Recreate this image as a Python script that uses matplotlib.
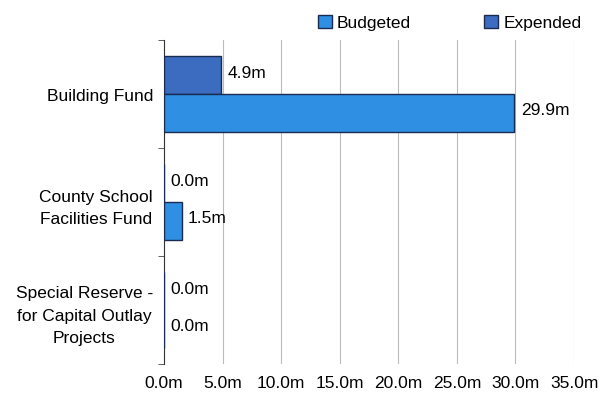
import numpy as np
from matplotlib import pyplot as plt

plt.rcParams['font.family'] = ['Liberation Sans', 'DejaVu Sans']

categories = ["Building Fund", "County School\nFacilities Fund", "Special Reserve -\nfor Capital Outlay\nProjects"]
budgeted = [29.9, 1.5, 0.0]
expended = [4.9, 0.0, 0.0]
x_ticks = [0, 5, 10, 15, 20, 25, 30, 35]

col_budget = "#2f8fe2"
col_expend = "#3b6cbf"

fig = plt.figure(figsize=(6.03, 4.02), dpi=100)
ax = fig.add_axes([0.272, 0.092, 0.68, 0.806])

y = np.arange(len(categories))
h = 0.35
ax.barh(y - h / 2, expended, height=h, color=col_expend, edgecolor="#1a2a50", linewidth=1, label="Expended", zorder=3)
ax.barh(y + h / 2, budgeted, height=h, color=col_budget, edgecolor="#1a2a50", linewidth=1, label="Budgeted", zorder=3)

fs = 12.5
for yy, v in zip(y - h / 2, expended):
    ax.text(v + 0.55, yy - 0.02, f"{v:.1f}m", va="center", ha="left", fontsize=fs)
for yy, v in zip(y + h / 2, budgeted):
    ax.text(v + 0.55, yy - 0.03, f"{v:.1f}m", va="center", ha="left", fontsize=fs)

ax.set_xlim(0, 35)
ax.set_ylim(2.5, -0.5)
ax.set_xticks(x_ticks)
ax.set_xticklabels([f"{t:.1f}m" for t in x_ticks], fontsize=fs)
ax.set_yticks(y)
ax.set_yticklabels(categories, fontsize=fs, multialignment="center", linespacing=1.6)
ax.set_yticks([-0.5, 0.5, 1.5, 2.5], minor=True)
ax.tick_params(axis="y", which="major", length=0, pad=8)
ax.tick_params(axis="y", which="minor", length=4, color="#444444")
ax.tick_params(axis="x", length=0, pad=8)
ax.grid(axis="x", color="#bbbbbb", linewidth=0.8, zorder=0)
for s in ["top", "right", "bottom"]:
    ax.spines[s].set_visible(False)
ax.spines["left"].set_color("#333333")

handles, labels = ax.get_legend_handles_labels()
fig.legend(handles[::-1], labels[::-1], loc="upper right", bbox_to_anchor=(0.99, 1.0), ncol=2,
           frameon=False, fontsize=fs, handlelength=0.8, handleheight=0.8, columnspacing=4.2, handletextpad=0.3)

fig.savefig("out.png", dpi=100)
